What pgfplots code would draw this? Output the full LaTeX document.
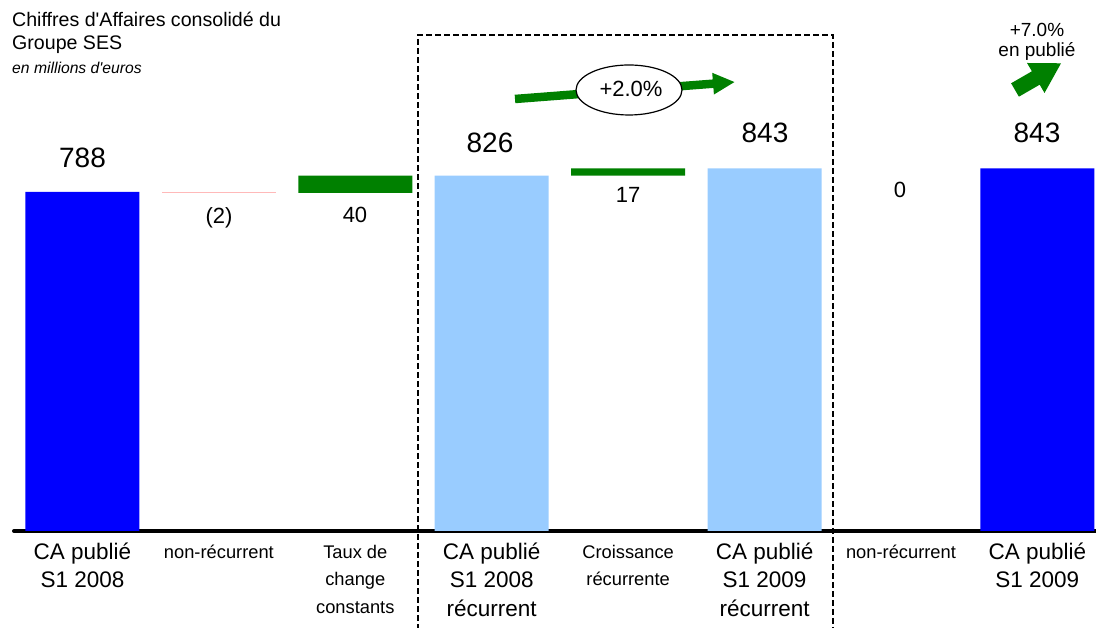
\documentclass[border=0pt]{standalone}
\usepackage{pgfplots}
\pgfplotsset{compat=1.18}
\usepackage{fontspec}
\setmainfont{Liberation Sans}
\usetikzlibrary{arrows.meta}
\definecolor{dblue}{RGB}{0,0,255}
\definecolor{lblue}{RGB}{153,204,255}
\definecolor{dgreen}{RGB}{0,128,0}
\definecolor{lpink}{RGB}{255,185,185}
\newcommand{\fs}[2]{\fontsize{#1}{#2}\selectfont}
\newcommand{\labA}[1]{{\fs{22.5}{28.5}\begin{tabular}[t]{@{}c@{}}#1\end{tabular}}}
\newcommand{\labB}[1]{{\fs{18.3}{27.5}\begin{tabular}[t]{@{}c@{}}#1\end{tabular}}}
\begin{document}
\begin{tikzpicture}
\useasboundingbox (0,0) rectangle (1096pt,628pt);
\begin{axis}[
  at={(14pt,97pt)}, anchor=south west,
  scale only axis, width=1082pt, height=531pt,
  xmin=-0.502, xmax=7.43, ymin=0, ymax=1234.3,
  ybar stacked, bar width=114pt,
  axis x line*=bottom, axis y line=none,
  x axis line style={line width=4pt, line cap=round, -},
  xtick={0,1,2,3,4,5,6,7},
  xticklabels={\labA{CA publié\\S1 2008}, \labB{non-récurrent}, \labB{Taux de\\change\\constants}, \labA{CA publié\\S1 2008\\récurrent}, \labB{Croissance\\récurrente}, \labA{CA publié\\S1 2009\\récurrent}, \labB{non-récurrent}, \labA{CA publié\\S1 2009}},
  major tick length=0pt,
  xticklabel style={anchor=north, inner sep=0pt, yshift=-8pt},
  clip=false,
]
% invisible offsets
\addplot[draw=none, fill=none] coordinates {(0,0) (1,786) (2,786) (3,0) (4,826) (5,0) (6,843) (7,0)};
% published totals
\addplot[draw=none, fill=dblue] coordinates {(0,788) (1,0) (2,0) (3,0) (4,0) (5,0) (6,0) (7,843)};
% negative variation
\addplot[draw=none, fill=lpink] coordinates {(0,0) (1,2) (2,0) (3,0) (4,0) (5,0) (6,0) (7,0)};
% positive variations
\addplot[draw=none, fill=dgreen] coordinates {(0,0) (1,0) (2,40) (3,0) (4,17) (5,0) (6,0) (7,0)};
% recurrent totals
\addplot[draw=none, fill=lblue] coordinates {(0,0) (1,0) (2,0) (3,826) (4,0) (5,843) (6,0) (7,0)};
\end{axis}
\begin{scope}[x=1pt, y=-1pt, yshift=628pt]
  % titles
  \node[anchor=base west, inner sep=0pt, font=\fs{19.6}{22}] at (12,27) {Chiffres d\textquotesingle Affaires consolidé du};
  \node[anchor=base west, inner sep=0pt, font=\fs{19.6}{22}] at (12,50) {Groupe SES};
  \node[anchor=base west, inner sep=0pt, font=\fs{15.7}{17}\itshape] at (12,74) {en millions d\textquotesingle euros};
  % value labels
  \node[anchor=base, inner sep=0pt, font=\fs{28}{30}] at (82.5,168) {788};
  \node[anchor=base, inner sep=0pt, font=\fs{22}{24}] at (219,224) {(2)};
  \node[anchor=base, inner sep=0pt, font=\fs{22}{24}] at (355,223) {40};
  \node[anchor=base, inner sep=0pt, font=\fs{28}{30}] at (490,153) {826};
  \node[anchor=base, inner sep=0pt, font=\fs{22}{24}] at (628,203) {17};
  \node[anchor=base, inner sep=0pt, font=\fs{28}{30}] at (765,143) {843};
  \node[anchor=base, inner sep=0pt, font=\fs{22}{24}] at (900,198) {0};
  \node[anchor=base, inner sep=0pt, font=\fs{28}{30}] at (1037,143) {843};
  % dashed frame
  \draw[line width=2.5pt, dash pattern=on 6pt off 3pt] (418,630) -- (418,35) -- (833,35) -- (833,630);
  % +2.0% arrow and bubble
  \draw[dgreen, line width=8.5pt, -{Triangle[length=22pt, width=20pt]}] (515,99) -- (735,82);
  \draw[fill=white, line width=1.2pt] (629,90) ellipse [x radius=53, y radius=25];
  \node[anchor=base, inner sep=0pt, font=\fs{22}{24}] at (631,97) {+2.0\%};
  % +7.0% annotation
  \node[anchor=base, inner sep=0pt, font=\fs{19}{21}] at (1037,37) {+7.0\%};
  \node[anchor=base, inner sep=0pt, font=\fs{19}{21}] at (1037,57) {en publié};
  \fill[dgreen] (1011.1,83.3) -- (1031.9,71.3) -- (1027,63) -- (1061,63.3) -- (1044.5,93) -- (1039.7,84.7) -- (1018.9,96.7) -- cycle;
\end{scope}
\end{tikzpicture}
\end{document}
